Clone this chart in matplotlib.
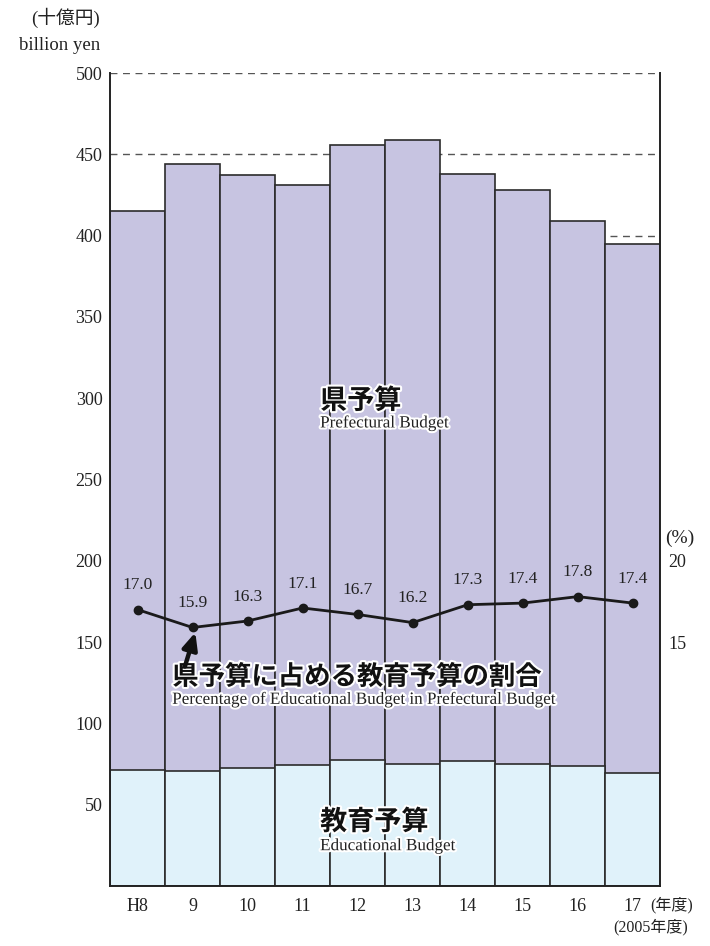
import matplotlib.pyplot as plt
import matplotlib.patheffects as pe
import numpy as np

# data
years = ['H8', '9', '10', '11', '12', '13', '14', '15', '16', '17']
pref_budget = [415, 444, 437, 431, 456, 459, 438, 428, 409, 395]
edu_budget = [71.2, 71.0, 72.4, 74.2, 77.3, 74.8, 76.7, 74.8, 73.6, 69.3]
edu_share = [17.0, 15.9, 16.3, 17.1, 16.7, 16.2, 17.3, 17.4, 17.8, 17.4]

SERIF = ['Liberation Serif', 'DejaVu Serif', 'Noto Sans CJK JP']
JP = ['Noto Sans CJK JP', 'DejaVu Sans']
PREF_COL = '#c7c4e1'
EDU_COL = '#e0f2fa'
EDGE = '#2b2b2b'
TXT = '#222222'

fig = plt.figure(figsize=(7.1, 9.46), dpi=100)
ax = fig.add_axes([0.155, 0.0634, 0.775, 0.8594])

x = np.arange(len(years))

# dashed guide lines behind the bars
for v in [400, 450, 500]:
    ax.axhline(v, color='#555555', lw=1.0, dashes=(5, 4), zorder=0)

ax.bar(x, pref_budget, width=1.0, color=PREF_COL, edgecolor=EDGE, linewidth=1.2, zorder=1)
ax.bar(x, edu_budget, width=1.0, color=EDU_COL, edgecolor=EDGE, linewidth=1.2, zorder=2)

ax.set_xlim(-0.5, len(years) - 0.5)
ax.set_ylim(0, 500)
ax.set_yticks(np.arange(50, 501, 50))
ax.set_yticklabels([str(v) for v in range(50, 501, 50)], family=SERIF, fontsize=13)
ax.set_xticks(x)
ax.set_xticklabels(years, family=SERIF, fontsize=13)
ax.tick_params(axis='y', length=0, pad=5.5, colors=TXT)
ax.tick_params(axis='x', length=0, pad=8.5, colors=TXT)
ax.spines['top'].set_visible(False)
for s in ['left', 'right', 'bottom']:
    ax.spines[s].set_linewidth(1.4)
    ax.spines[s].set_color('#222222')

# percentage line on right scale
ax2 = ax.twinx()
ax2.set_ylim(0, 50)
ax2.plot(x, edu_share, color='#1a1a1a', lw=2, marker='o', ms=6, zorder=5)
for xi, v in zip(x, edu_share):
    ax2.text(xi, v + 1.0, f'{v:.1f}', ha='center', va='bottom',
             family=SERIF, fontsize=12.5, color=TXT)
ax2.set_yticks([15, 20])
ax2.set_yticklabels(['15', '20'], family=SERIF, fontsize=13)
ax2.tick_params(axis='y', length=0, pad=5.5, colors=TXT)
for s in ax2.spines.values():
    s.set_visible(False)

# arrow to H9 point
ax2.annotate('', xy=(1.05, edu_share[1] - 0.3), xytext=(0.86, 13.5),
             arrowprops=dict(arrowstyle='-|>,head_length=1.0,head_width=0.45',
                             color='#111111', lw=3.2, shrinkA=0, shrinkB=0))

outline = [pe.withStroke(linewidth=3, foreground='white')]

def label(x0, y_jp, jp, en, y_en, size=19.5):
    ax.text(x0, y_jp, jp, ha='left', va='center', family=JP, fontsize=size,
            fontweight='bold', color='#111111', path_effects=outline)
    ax.text(x0, y_en, en, ha='left', va='center', family=SERIF, fontsize=12.3,
            color=TXT, path_effects=outline)

label(3.318, 298.5, '県予算', 'Prefectural Budget', 284.5)
label(3.318, 39.5, '教育予算', 'Educational Budget', 24.5)
label(0.63, 128.5, '県予算に占める教育予算の割合',
      'Percentage of Educational Budget in Prefectural Budget', 114.5, size=19)

# unit labels
fig.text(66 / 710, 1 - 18 / 946, '(十億円)', ha='center', va='center',
         family=SERIF, fontsize=13.5, color=TXT)
fig.text(60 / 710, 1 - 46 / 946, 'billion yen', ha='center', va='center',
         family=SERIF, fontsize=13.5, color=TXT)
fig.text(680 / 710, 1 - 538 / 946, '(%)', ha='center', va='center',
         family=SERIF, fontsize=14, color=TXT)
fig.text(650 / 710, 1 - 905 / 946, '(年度)', ha='left', va='center',
         family=SERIF, fontsize=11.5, color=TXT)
fig.text(651 / 710, 1 - 927 / 946, '(2005年度)', ha='center', va='center',
         family=SERIF, fontsize=11.5, color=TXT)

fig.savefig('out.png', dpi=100)
